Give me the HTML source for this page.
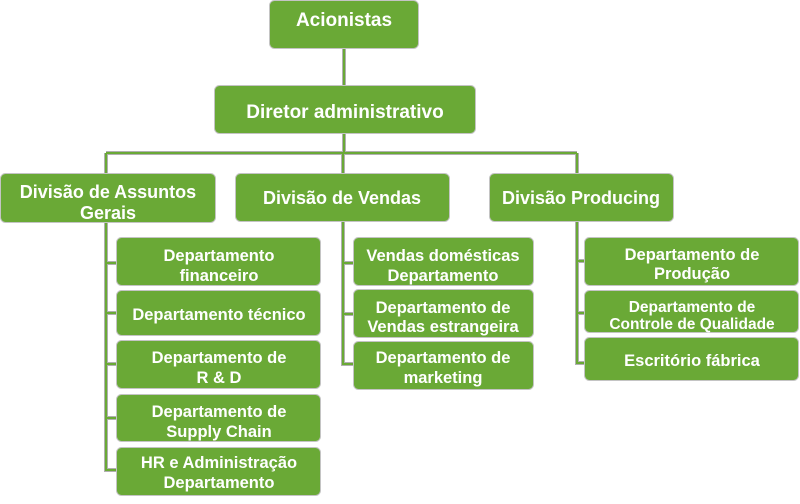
<!DOCTYPE html>
<html><head><meta charset="utf-8"><style>
html,body{margin:0;padding:0;background:#fff;width:800px;height:504px;overflow:hidden}
svg{display:block}
text{font-family:"Liberation Sans",Arial,sans-serif;font-weight:bold;fill:#fff;text-anchor:middle}
.t{font-size:19px}.d{font-size:18px}.p{font-size:16.5px}.s{font-size:15.5px}
rect{fill:#6aa936;stroke:#c4c4c4;stroke-width:1}
</style></head><body>
<svg width="800" height="504" viewBox="0 0 800 504" xmlns="http://www.w3.org/2000/svg">
<g fill="none" stroke-linejoin="miter">
<g stroke="#b0b0b0" stroke-width="4">
<path d="M344 49V153M106 153H577M106 153V470H116M106 263H116M106 313H116M106 364H116M106 418H116M343 153V364H353M343 263H353M343 314H353M577 153V363H584M577 261H584M577 313H584"/>
</g>
<g stroke="#6aa936" stroke-width="2">
<path d="M344 49V153M106 153H577M106 153V470H116M106 263H116M106 313H116M106 364H116M106 418H116M343 153V364H353M343 263H353M343 314H353M577 153V363H584M577 261H584M577 313H584"/>
</g>
</g>

<rect x="269.5" y="0.5" width="149" height="48" rx="5"/>
<text class="t" x="344" y="26">Acionistas</text>

<rect x="214.5" y="85.5" width="261" height="48" rx="5"/>
<text class="t" x="345" y="118">Diretor administrativo</text>

<rect x="0.5" y="173.5" width="215" height="49" rx="5"/>
<text class="d" x="108" y="198">Divisão de Assuntos</text>
<text class="d" x="108" y="219">Gerais</text>

<rect x="235.5" y="173.5" width="214" height="48" rx="5"/>
<text class="d" x="342" y="204">Divisão de Vendas</text>

<rect x="489.5" y="173.5" width="184" height="48" rx="5"/>
<text class="d" x="581" y="204">Divisão Producing</text>

<rect x="116.5" y="237.5" width="204" height="48" rx="5"/>
<text class="p" x="219" y="261">Departamento</text>
<text class="p" x="219" y="281">financeiro</text>

<rect x="116.5" y="290.5" width="204" height="45" rx="5"/>
<text class="p" x="219" y="320">Departamento técnico</text>

<rect x="116.5" y="340.5" width="204" height="48" rx="5"/>
<text class="p" x="219" y="363">Departamento de</text>
<text class="p" x="219" y="383">R &amp; D</text>

<rect x="116.5" y="394.5" width="204" height="47" rx="5"/>
<text class="p" x="219" y="417">Departamento de</text>
<text class="p" x="219" y="437">Supply Chain</text>

<rect x="116.5" y="447.5" width="204" height="48" rx="5"/>
<text class="p" x="219" y="468">HR e Administração</text>
<text class="p" x="219" y="488">Departamento</text>

<rect x="353.5" y="237.5" width="180" height="48" rx="5"/>
<text class="p" x="443" y="261">Vendas domésticas</text>
<text class="p" x="443" y="281">Departamento</text>

<rect x="353.5" y="289.5" width="180" height="48" rx="5"/>
<text class="p" x="443" y="313">Departamento de</text>
<text class="p" x="443" y="332">Vendas estrangeira</text>

<rect x="353.5" y="341.5" width="180" height="48" rx="5"/>
<text class="p" x="443" y="363">Departamento de</text>
<text class="p" x="443" y="383">marketing</text>

<rect x="584.5" y="237.5" width="214" height="48" rx="5"/>
<text class="p" x="692" y="260">Departamento de</text>
<text class="p" x="692" y="279">Produção</text>

<rect x="584.5" y="290.5" width="214" height="42" rx="5"/>
<text class="s" x="692" y="312">Departamento de</text>
<text class="s" x="692" y="329">Controle de Qualidade</text>

<rect x="584.5" y="337.5" width="214" height="43" rx="5"/>
<text class="p" x="692" y="366">Escritório fábrica</text>
</svg>
</body></html>
